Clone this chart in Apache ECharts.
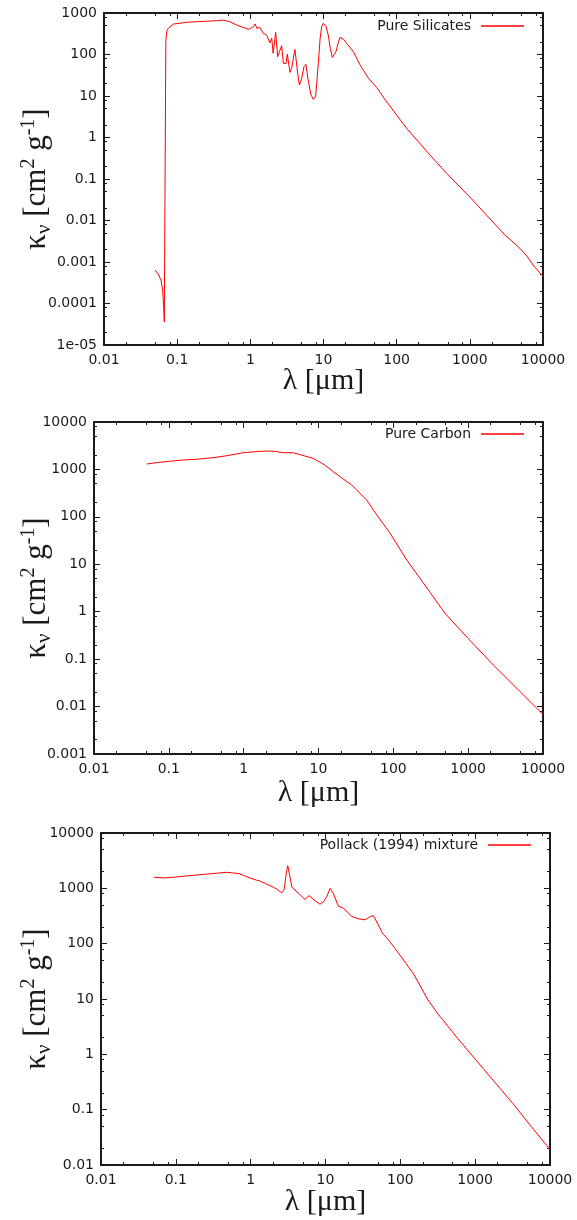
<!DOCTYPE html>
<html><head><meta charset="utf-8">
<script src="https://cdn.jsdelivr.net/npm/echarts@6/dist/echarts.min.js"></script>
<style>html,body{margin:0;padding:0;background:#fff}#c{width:577px;height:1220px}</style>
</head><body><div id="c"></div>
<script>
// ---------- data ----------
const silicatesLambda = [0.050,0.0552,0.060,0.0634,0.0654,0.0667,0.0700,0.0725,0.0757,0.0885,0.135,0.20,0.347,0.43,0.525,0.65,0.80,0.935,1.0,1.1,1.16,1.23,1.35,1.5,1.67,1.85,1.96,2.05,2.22,2.36,2.46,2.68,2.83,3.08,3.2,3.48,3.67,4.07,4.4,4.67,5.0,5.41,5.75,6.17,6.7,7.25,7.8,8.5,9.0,9.44,9.94,10.8,11.6,12.4,13.2,14.8,16.0,16.8,17.7,19.0,20.7,25.6,31.6,41,53,69,137,285,479,1060,3000,4000,5000,6000,7500,10000];
const silicatesKappa  = [6.4e-4,5.1e-4,3.7e-4,2.1e-4,8.3e-5,3.6e-5,220,380,430,540,597,620,653,676,618,513,450,405,420,468,543,427,452,325,295,191,245,107,342,88,97,163,61,61,103,37,47,133,40,18.4,25,51,58,24.5,11,8.3,9.6,61,250,468,563,486,295,140,85,117,200,259,268,230,186,117,56,27,16.3,8.3,1.66,0.38,0.138,0.033,0.0045,0.0029,0.0020,0.0014,0.0008,0.00045];

const carbonLambda = [0.0507,0.07,0.1,0.156,0.25,0.39,0.6,0.99,1.5,2.04,2.7,3.07,3.4,4.6,6.0,8.5,12,19.4,27.8,44,60,90.6,151,250,363,492,1000,2180,4500,10000];
const carbonKappa  = [1300,1400,1480,1580,1650,1770,1950,2250,2380,2450,2400,2290,2250,2250,2000,1710,1250,700,470,226,110,45,12.3,4.1,1.8,0.92,0.273,0.0746,0.024,0.0068];

const pollackLambda = [0.051,0.068,0.1,0.155,0.25,0.478,0.7,0.885,1.2,1.3,1.4,1.5,1.63,1.7,1.8,2.0,2.2,2.4,2.6,2.8,3.0,3.13,3.3,3.55,4.36,5.32,6.05,7.0,8.45,9.5,10.4,11.5,12.7,14.8,17.4,22.4,28,33.6,40,43.6,50.7,57.5,61,70,85,149,234,339,370,582,1024,1820,3180,5650,10000];
const pollackKappa  = [1585,1540,1600,1700,1800,1950,1850,1620,1400,1380,1300,1270,1180,1150,1130,1050,980,900,830,950,1900,2570,1800,1050,815,630,740,620,515,580,705,1000,815,480,436,310,280,270,310,320,220,155,160,115,82,29,9.6,4.8,4.2,1.95,0.79,0.316,0.13,0.049,0.019];

const seriesNames = ['Pure Silicates', 'Pure Carbon', 'Pollack (1994) mixture'];
const xTickValues = [0.01, 0.1, 1, 10, 100, 1000, 10000];
const silicatesYTicks = [1e-5, 1e-4, 0.001, 0.01, 0.1, 1, 10, 100, 1000];
const carbonYTicks = [0.001, 0.01, 0.1, 1, 10, 100, 1000, 10000];
const pollackYTicks = [0.01, 0.1, 1, 10, 100, 1000, 10000];
const minorMultipliers = [2, 5, 8];
const xTitle = 'λ [μm]';
const yTitleRich = '{a|κ}{b|ν}{a| [cm}{c|2}{a| g}{c|-1}{a|]}';

// ---------- layout ----------
const INK = '#1a1a1a';
const TICK_FONT = 'DejaVu Sans';
const SERIF = 'Liberation Serif';
const panels = [
  {name: seriesNames[0], lam: silicatesLambda, kap: silicatesKappa, yTicks: silicatesYTicks,
   grid: {left: 104, top: 13, width: 439, height: 332}, legend: {right: 53, top: 19}, xGap: 21, yGap: 49},
  {name: seriesNames[1], lam: carbonLambda, kap: carbonKappa, yTicks: carbonYTicks,
   grid: {left: 94, top: 422, width: 449, height: 332}, legend: {right: 53, top: 427}, xGap: 24, yGap: 39},
  {name: seriesNames[2], lam: pollackLambda, kap: pollackKappa, yTicks: pollackYTicks,
   grid: {left: 101, top: 833, width: 449, height: 332}, legend: {right: 46, top: 838}, xGap: 22, yGap: 46}
];

function minorValues(majors) {
  const out = [];
  for (let i = 0; i < majors.length - 1; i++) for (const m of minorMultipliers) out.push(majors[i] * m);
  return out;
}
function fmt(v) {
  const e = Math.round(Math.log10(v));
  if (e <= -5) return '1e-0' + (-e);
  if (e < 0) return '0.' + '0'.repeat(-e - 1) + '1';
  return String(Math.round(v));
}
const lineStyle = {color: INK, width: 2};

const grids = [], xAxes = [], yAxes = [], series = [], legends = [];
panels.forEach((p, i) => {
  grids.push(Object.assign({containLabel: false, outerBoundsMode: 'none'}, p.grid));
  const xMin = xTickValues[0], xMax = xTickValues[xTickValues.length - 1];
  const yMin = p.yTicks[0], yMax = p.yTicks[p.yTicks.length - 1];
  const xMinor = minorValues(xTickValues), yMinor = minorValues(p.yTicks);
  const baseX = {gridIndex: i, type: 'log', logBase: 10, min: xMin, max: xMax, splitLine: {show: false}, silent: true};
  const baseY = {gridIndex: i, type: 'log', logBase: 10, min: yMin, max: yMax, splitLine: {show: false}, silent: true};
  xAxes.push(Object.assign({}, baseX, {
    position: 'bottom',
    axisLine: {show: true, lineStyle},
    axisTick: {show: true, inside: true, length: 6, customValues: xTickValues, lineStyle: {color: INK, width: 1}},
    axisLabel: {customValues: xTickValues, formatter: fmt, margin: 8, fontFamily: TICK_FONT, fontSize: 14, color: INK},
    name: xTitle, nameLocation: 'middle', nameGap: p.xGap, nameMoveOverlap: false,
    nameTextStyle: {fontFamily: SERIF, fontSize: 30, color: INK}
  }));
  xAxes.push(Object.assign({}, baseX, {
    position: 'top',
    axisLine: {show: true, lineStyle},
    axisTick: {show: true, inside: true, length: 6, customValues: xTickValues, lineStyle: {color: INK, width: 1}},
    axisLabel: {show: false}
  }));
  ['bottom', 'top'].forEach(pos => xAxes.push(Object.assign({}, baseX, {
    position: pos,
    axisLine: {show: false},
    axisTick: {show: true, inside: true, length: 3, customValues: xMinor, lineStyle: {color: INK, width: 1}},
    axisLabel: {show: false}
  })));
  yAxes.push(Object.assign({}, baseY, {
    position: 'left',
    axisLine: {show: true, lineStyle},
    axisTick: {show: true, inside: true, length: 6, customValues: p.yTicks, lineStyle: {color: INK, width: 1}},
    axisLabel: {customValues: p.yTicks, formatter: fmt, margin: 7, fontFamily: TICK_FONT, fontSize: 14, color: INK},
    name: yTitleRich, nameLocation: 'middle', nameGap: p.yGap, nameRotate: 90, nameMoveOverlap: false,
    nameTextStyle: {
      color: INK, fontFamily: SERIF, fontSize: 31,
      rich: {
        a: {fontFamily: SERIF, fontSize: 31, lineHeight: 36, color: INK, verticalAlign: 'middle'},
        b: {fontFamily: SERIF, fontSize: 21, lineHeight: 21, color: INK, verticalAlign: 'bottom'},
        c: {fontFamily: SERIF, fontSize: 20, lineHeight: 20, color: INK, verticalAlign: 'top'}
      }
    }
  }));
  yAxes.push(Object.assign({}, baseY, {
    position: 'right',
    axisLine: {show: true, lineStyle},
    axisTick: {show: true, inside: true, length: 6, customValues: p.yTicks, lineStyle: {color: INK, width: 1}},
    axisLabel: {show: false}
  }));
  ['left', 'right'].forEach(pos => yAxes.push(Object.assign({}, baseY, {
    position: pos,
    axisLine: {show: false},
    axisTick: {show: true, inside: true, length: 3, customValues: yMinor, lineStyle: {color: INK, width: 1}},
    axisLabel: {show: false}
  })));
  series.push({
    name: p.name, type: 'line', xAxisIndex: 4 * i, yAxisIndex: 4 * i,
    data: p.lam.map((l, k) => [l, p.kap[k]]),
    symbol: 'none', showSymbol: false, smooth: false, clip: true,
    lineStyle: {color: '#ff0000', width: 1}, itemStyle: {color: '#ff0000'}
  });
  legends.push({
    data: [{name: p.name, icon: 'rect'}], right: p.legend.right, top: p.legend.top,
    orient: 'horizontal', align: 'right', padding: 0, selectedMode: false,
    itemWidth: 43, itemHeight: 1.5,
    textStyle: {fontFamily: TICK_FONT, fontSize: 14, color: INK, padding: [0, 5, 0, 0]}
  });
});

const chart = echarts.init(document.getElementById('c'), null, {renderer: 'canvas'});
chart.setOption({
  animation: false,
  backgroundColor: '#ffffff',
  grid: grids, xAxis: xAxes, yAxis: yAxes, series, legend: legends
});
</script>
</body></html>
